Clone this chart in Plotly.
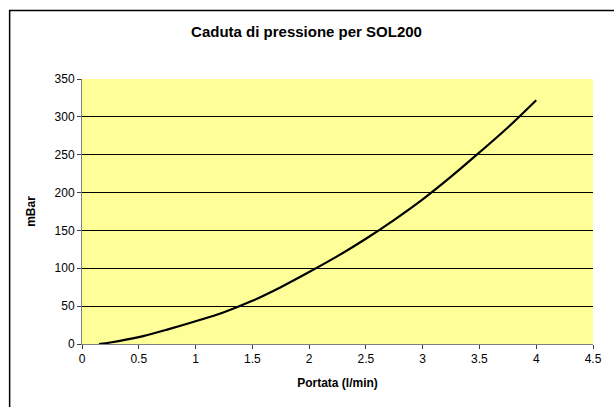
import plotly.graph_objects as go

portata = [0.15, 0.25, 0.5, 0.75, 1.0, 1.25, 1.5, 1.75, 2.0, 2.25, 2.5, 2.75, 3.0, 3.25, 3.5, 3.75, 4.0]
mbar = [0, 2, 9, 19, 30, 42, 57, 75, 95, 116, 139, 164, 191, 221, 253, 286, 322]

x_ticks = [0, 0.5, 1, 1.5, 2, 2.5, 3, 3.5, 4, 4.5]
x_ticklabels = ["0", "0.5", "1", "1.5", "2", "2.5", "3", "3.5", "4", "4.5"]
y_ticks = [0, 50, 100, 150, 200, 250, 300, 350]

W, H = 614, 407
L, R, T, B = 82, 13, 79, 63
pw, ph = W - L - R, H - T - B

fig = go.Figure()
fig.add_trace(go.Scatter(x=portata, y=mbar, mode="lines",
                         line=dict(color="black", width=2.2, shape="spline", smoothing=0.8),
                         showlegend=False, hoverinfo="skip"))

font = "Liberation Sans, Arial, sans-serif"
fig.update_layout(
    width=W, height=H,
    margin=dict(l=L, r=R, t=T, b=B),
    paper_bgcolor="white",
    plot_bgcolor="#FFFF99",
    font=dict(family=font, size=12, color="black"),
    title=dict(text="<b>Caduta di pressione per SOL200</b>", x=306.5 / W, xanchor="center",
               y=1 - 32 / H, yanchor="middle", font=dict(size=15, family=font)),
    xaxis=dict(range=[0, 4.5], tickvals=x_ticks, ticktext=x_ticklabels,
               showgrid=False, zeroline=False, showline=True, linecolor="#808080", linewidth=1,
               ticks="outside", ticklen=4, tickcolor="#404040", ticklabeloverflow="allow",
               title=dict(text="<b>Portata (l/min)</b>", font=dict(size=12), standoff=13)),
    yaxis=dict(range=[0, 350], tickvals=y_ticks,
               showgrid=True, gridcolor="black", gridwidth=1, zeroline=False,
               showline=True, linecolor="#808080", linewidth=1,
               ticks="outside", ticklen=4, tickcolor="#404040",
               title=dict(text="<b>mBar</b>", font=dict(size=12), standoff=16)),
    shapes=[dict(type="rect", xref="paper", yref="paper",
                 x0=(8.5 - L) / pw, y0=-1, x1=2, y1=(H - 10.5 - B) / ph,
                 line=dict(color="black", width=1.5), fillcolor="rgba(0,0,0,0)", layer="below")],
)

fig.write_html("out.html", config={"displayModeBar": False},
               post_script="document.body.style.margin='0';document.body.style.overflow='hidden';")
